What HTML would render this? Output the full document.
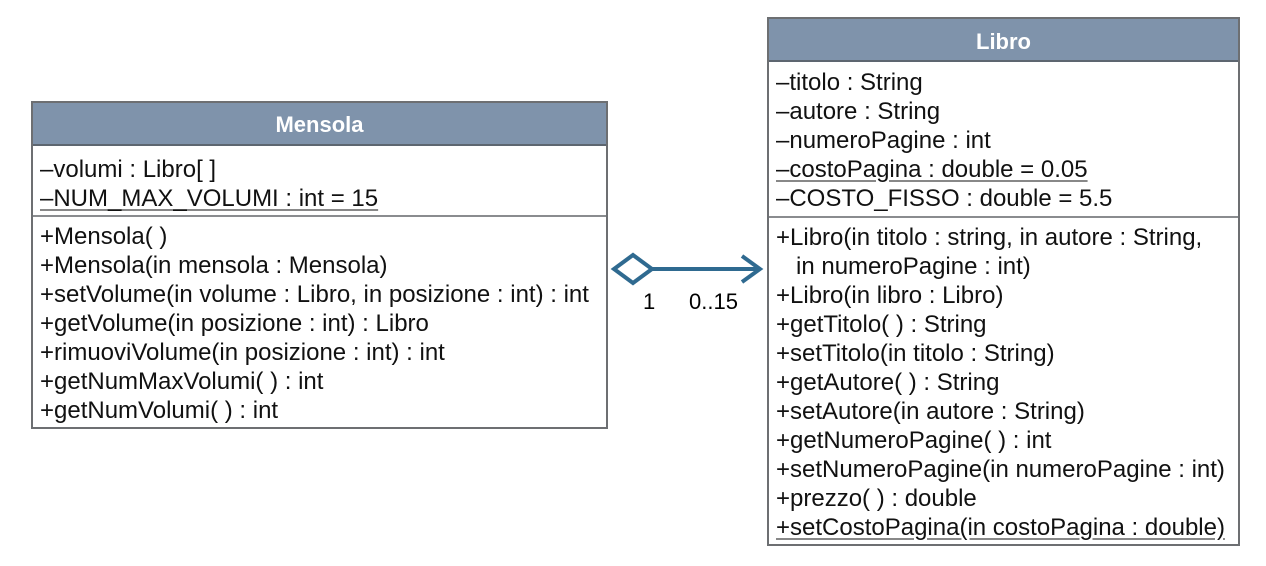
<!DOCTYPE html>
<html><head><style>
body{margin:0;width:1266px;height:566px;background:#fff;position:relative;font-family:"Liberation Sans",Arial,sans-serif;color:#111;overflow:hidden}
.box{position:absolute;border:2px solid #6d6f72;box-sizing:border-box;background:#fff}
.hd{background:#7f93ab;color:#fff;font-weight:bold;font-size:22px;text-align:center;border-bottom:2px solid #5d6670;box-sizing:border-box}
.sec{box-sizing:border-box;padding-left:7px;font-size:24px;line-height:29px}
.sec div{white-space:nowrap}
u{text-decoration:underline;text-decoration-color:#888;text-underline-offset:3px}
</style></head><body>
<div class="box" style="left:31px;top:101px;width:577px;height:328px">
 <div class="hd" style="height:43px;line-height:44px">Mensola</div>
 <div class="sec" style="height:71px;border-bottom:2px solid #8a8c8f;padding-top:9px">
  <div>–volumi : Libro[ ]</div><div><u>–NUM_MAX_VOLUMI : int = 15</u></div>
 </div>
 <div class="sec" style="padding-top:5px">
  <div>+Mensola( )</div><div>+Mensola(in mensola : Mensola)</div>
  <div>+setVolume(in volume : Libro, in posizione : int) : int</div>
  <div>+getVolume(in posizione : int) : Libro</div>
  <div>+rimuoviVolume(in posizione : int) : int</div>
  <div>+getNumMaxVolumi( ) : int</div>
  <div>+getNumVolumi( ) : int</div>
 </div>
</div>
<div class="box" style="left:767px;top:17px;width:473px;height:529px">
 <div class="hd" style="height:43px;line-height:46px">Libro</div>
 <div class="sec" style="height:156px;border-bottom:2px solid #8a8c8f;padding-top:6px">
  <div>–titolo : String</div><div>–autore : String</div><div>–numeroPagine : int</div>
  <div><u>–costoPagina : double = 0.05</u></div><div>–COSTO_FISSO : double = 5.5</div>
 </div>
 <div class="sec" style="padding-top:5px">
  <div>+Libro(in titolo : string, in autore : String,</div>
  <div>&nbsp;&nbsp;&nbsp;in numeroPagine : int)</div>
  <div>+Libro(in libro : Libro)</div>
  <div>+getTitolo( ) : String</div>
  <div>+setTitolo(in titolo : String)</div>
  <div>+getAutore( ) : String</div>
  <div>+setAutore(in autore : String)</div>
  <div>+getNumeroPagine( ) : int</div>
  <div>+setNumeroPagine(in numeroPagine : int)</div>
  <div>+prezzo( ) : double</div>
  <div><u>+setCostoPagina(in costoPagina : double)</u></div>
 </div>
</div>
<svg style="position:absolute;left:0;top:0" width="1266" height="566">
 <g fill="none" stroke="#2f6a90" stroke-width="4">
  <polygon points="614,269 633,255 652,269 633,283"/>
  <line x1="652" y1="269" x2="760" y2="269"/>
  <polyline points="742,256 760,269 742,282"/>
 </g>
 <text x="643" y="309" font-size="22" font-family="Liberation Sans">1</text>
 <text x="689" y="309" font-size="22" font-family="Liberation Sans">0..15</text>
</svg>
</body></html>
